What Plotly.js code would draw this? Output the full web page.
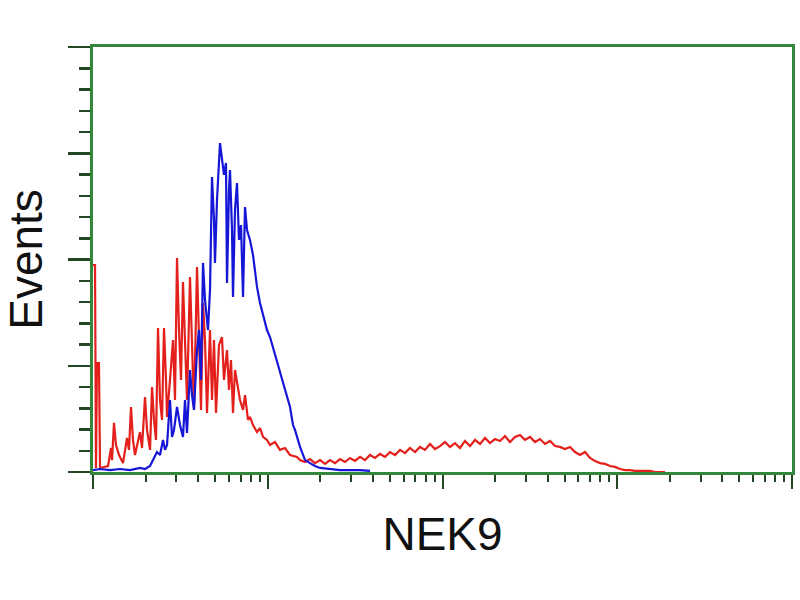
<!DOCTYPE html>
<html>
<head>
<meta charset="utf-8">
<script src="https://cdn.plot.ly/plotly-3.0.1.min.js"></script>
<style>html,body{margin:0;padding:0;background:#fff;}#chart{width:800px;height:600px;}</style>
</head>
<body>
<div id="chart"></div>
<script>
// NEK9 fluorescence intensity (log channel) and event counts
const redIntensity = [1.0,1.027,1.040,1.054,1.082,1.097,1.219,1.268,1.285,1.319,1.354,1.409,1.485,1.565,1.607,1.650,1.694,1.739,1.858,1.908,1.984,2.037,2.120,2.176,2.234,2.294,2.355,2.418,2.483,2.549,2.617,2.652,2.758,2.870,2.946,3.025,3.106,3.189,3.273,3.361,3.451,3.590,3.686,3.784,3.937,4.042,4.150,4.261,4.375,4.492,4.672,4.797,4.925,5.057,5.260,5.473,5.617,5.845,6.001,6.161,6.326,6.494,6.668,6.938,7.219,7.411,7.709,7.914,8.234,8.679,9.030,9.394,9.90,10.30,11.00,11.75,12.55,13.41,14.70,
  15.30,16.34,17.45,18.64,19.91,21.27,22.71,24.26,25.91,27.67,29.56,31.57,33.73,36.03,38.48,41.10,43.90,46.89,50.08,53.49,57.13,61.02,65.17,69.61,74.34,79.41,84.83,90.61,96.77,103.4,110.4,117.9,125.9,134.5,143.7,153.5,163.9,175.1,187.0,199.7,213.3,227.8,243.4,260.0,277.6,296.5,316.7,338.3,361.3,385.9,412.3,440.4,470.3,502.3,536.6,573.1,612.1,653.8,698.5,746.1,796.9,851.2,909.0,970.9,1037,1108,1183,1264,1350,1442,1540,1645,1757,1877];
const redEvents = [97.4,97.4,1.9,51.3,51.3,1.9,2.8,11.3,5.6,23.1,12.7,8.0,4.2,16.0,10.4,30.6,15.1,8.0,18.8,11.3,35.3,19.8,10.4,40.0,24.5,15.1,67.8,33.9,24.5,67.8,43.3,25.9,43.3,62.1,33.9,100.7,66.8,43.3,89.4,62.1,33.9,91.8,62.1,29.2,96.5,66.8,29.2,79.5,62.1,27.8,66.8,33.9,62.1,27.8,59.8,63.5,43.3,57.4,38.6,52.7,27.8,48.0,41.9,33.9,29.2,36.2,24.5,25.9,22.1,18.8,20.7,16.5,15.1,12.7,14.1,10.4,11.3,8.0,7.1,
  5.6,4.7,6.1,4.2,5.6,3.8,5.6,4.2,6.1,4.7,6.6,5.2,7.1,5.6,8.0,6.6,8.5,7.1,9.4,8.0,10.4,8.9,11.3,9.4,11.8,10.4,13.2,10.8,12.2,14.1,11.8,13.6,11.3,14.6,12.2,15.1,13.2,16.0,13.6,15.5,14.6,16.9,14.1,16.5,17.4,15.1,16.5,14.1,15.5,13.2,14.6,12.2,11.8,10.8,11.8,9.4,8.0,9.4,6.6,5.2,4.2,3.8,2.8,2.4,1.4,0.9,0.9,0.5,0.5,0.5,0.5,0,0,0];

const blueIntensity = [1.0,1.097,1.251,1.427,1.628,1.858,1.984,2.120,2.205,2.324,2.418,2.516,2.583,2.652,2.758,2.833,2.908,3.025,3.147,3.273,3.361,3.451,3.590,3.686,3.784,3.937,4.042,4.150,4.261,4.375,4.551,4.672,4.797,4.925,4.990,5.124,5.331,5.473,5.617,5.768,5.845,6.001,6.081,6.244,6.326,6.494,6.668,6.847,7.030,7.219,7.411,7.608,7.914,8.234,8.679,9.030,9.394,9.90,10.30,11.00,11.75,12.55,13.41,13.95,14.32,15.30,16.34,17.45,18.64,19.91,22.71,25.91,29.56,33.73,38.48];
const blueEvents = [0.9,1.4,0.9,1.4,0.9,1.9,1.4,2.8,5.6,9.4,8.0,15.1,10.4,12.7,33.9,16.5,19.8,30.6,22.1,16.5,33.9,18.4,48.0,36.2,29.2,57.4,66.8,43.3,98.4,80.9,66.8,85.6,138.8,118.6,98.4,128.0,154.8,146.8,139.8,145.4,88.9,132.7,142.1,113.9,82.4,123.3,136.0,109.2,116.2,82.4,124.7,113.9,109.2,102.1,87.1,79.5,73.9,66.8,63.5,55.1,46.6,38.6,30.6,22.1,19.8,11.8,5.6,4.2,2.8,1.9,1.4,0.9,0.9,0.9,0.5];

const xTitle = "NEK9";
const yTitle = "Events";
const yMajorTicks = [0,50,100,150,200];

const xMinor = [];
for (let d = 1; d <= 1000; d *= 10) { for (let m = 2; m <= 9; m++) xMinor.push(m * d); }
const yMinor = [];
for (let v = 0; v <= 200; v += 10) { if (v % 50 !== 0) yMinor.push(v); }

const frameGreen = "rgb(52,135,58)";
const tickDark = "rgb(35,70,35)";

const traces = [
  {x: redIntensity, y: redEvents, type: "scatter", mode: "lines", line: {color: "rgb(228,32,28)", width: 2.2}, hoverinfo: "skip"},
  {x: blueIntensity, y: blueEvents, type: "scatter", mode: "lines", line: {color: "rgb(22,22,215)", width: 2.2}, hoverinfo: "skip"}
];

const layout = {
  width: 800, height: 600,
  margin: {l: 93, r: 8, t: 47, b: 128},
  paper_bgcolor: "#fff", plot_bgcolor: "#fff",
  showlegend: false,
  font: {family: "Liberation Sans, Arial, sans-serif", color: "#111"},
  xaxis: {
    type: "log", range: [0, 4],
    showgrid: false, zeroline: false,
    showline: true, linecolor: frameGreen, linewidth: 3, mirror: true,
    tickmode: "array", tickvals: [1,10,100,1000,10000],
    ticks: "outside", ticklen: 14, tickwidth: 2, tickcolor: tickDark,
    showticklabels: false,
    minor: {tickmode: "array", tickvals: xMinor, ticks: "outside", ticklen: 7, tickwidth: 2, tickcolor: tickDark, showgrid: false},
    title: {text: xTitle, font: {size: 46, color: "#111"}, standoff: 30}
  },
  yaxis: {
    range: [0, 200],
    showgrid: false, zeroline: false,
    showline: true, linecolor: frameGreen, linewidth: 3, mirror: true,
    tickmode: "array", tickvals: yMajorTicks,
    ticks: "outside", ticklen: 22, tickwidth: 2.5, tickcolor: tickDark,
    showticklabels: false,
    minor: {tickmode: "array", tickvals: yMinor, ticks: "outside", ticklen: 11, tickwidth: 2.5, tickcolor: tickDark, showgrid: false},
    title: {text: yTitle, font: {size: 46, color: "#111"}, standoff: 30}
  }
};

Plotly.newPlot("chart", traces, layout, {staticPlot: true, displayModeBar: false});
</script>
</body>
</html>
